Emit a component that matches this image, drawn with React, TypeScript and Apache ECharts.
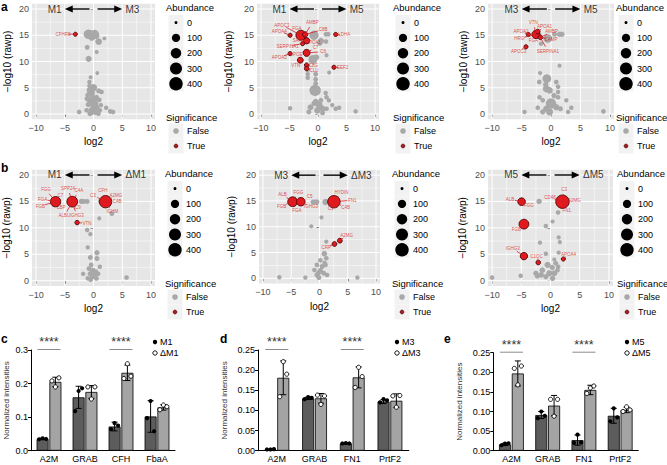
import React, { useEffect, useRef } from 'react';
import * as echarts from 'echarts';

const FONT = "'Liberation Sans', Arial, Helvetica, sans-serif";

// ---------------- Volcano plots: [log2, -log10(rawp), abundance] ----------------
const xTicks = [-10, -5, 0, 5, 10];
const yTicks = [0, 5, 10, 15, 20];
const xMinor = [-7.5, -2.5, 2.5, 7.5];
const yMinor = [2.5, 7.5, 12.5, 17.5];
const abundanceLegend = [0, 100, 200, 300, 400];

const a1Grey = [
  [-0.9, 15.2, 150], [0.2, 15.2, 120], [-0.3, 14.7, 80], [-0.5, 15.3, 60], [0.5, 14.9, 40], [0.9, 13.8, 50],
  [1.9, 14.4, 3], [-1.1, 12.7, 15], [0.55, 11.8, 5], [-0.85, 10.5, 40], [0.66, 7.8, 3], [-0.5, 7.0, 5],
  [-0.7, 6.1, 8], [-0.7, 5.4, 10], [0.0, 5.0, 70], [-0.6, 4.5, 60], [-0.3, 4.0, 40], [0.9, 4.4, 15],
  [1.4, 4.2, 10], [-1.0, 3.6, 15], [-1.1, 2.9, 20], [-0.6, 2.6, 40], [0.15, 2.6, 40], [1.0, 2.7, 12],
  [-0.9, 1.8, 20], [0.0, 1.7, 60], [0.55, 1.3, 30], [-0.3, 0.7, 50], [0.3, 0.4, 40], [1.1, 0.7, 10],
  [2.2, 1.2, 8], [-2.5, 0.4, 10], [2.9, 0.5, 10], [3.4, 0.4, 10], [-1.2, 0.7, 10], [-0.6, 0.1, 20],
  [0.85, 0.1, 15], [0.1, 1.2, 30], [1.3, 1.7, 8], [0.55, 3.2, 10], [-0.2, 3.3, 25], [0.4, 2.0, 20],
];
const a1Sig = [[-3.16, 15.2, 4]];
const a1Labels: [string, number, number, number, number][] = [['CFHR3', -5.3, 15.2, -3.16, 15.2]];

const a2Grey = [
  [-0.7, 15.0, 150], [0.5, 13.9, 40], [1.4, 15.2, 10], [1.8, 15.2, 10], [1.4, 13.8, 10], [1.5, 11.2, 5],
  [-0.9, 10.4, 130], [-0.3, 10.8, 30], [1.95, 7.9, 5], [-0.4, 7.6, 15], [-0.4, 6.6, 12], [-0.4, 5.8, 12],
  [-0.5, 4.5, 260], [-1.8, 6.9, 8], [-1.8, 7.6, 8], [1.35, 4.0, 8], [1.5, 3.2, 10], [0.5, 2.6, 15],
  [1.9, 2.6, 8], [-0.4, 2.3, 40], [0.2, 1.7, 60], [-1.3, 1.3, 30], [0.8, 1.0, 40], [-0.1, 0.7, 50],
  [1.5, 1.0, 10], [3.1, 1.0, 8], [3.7, 1.2, 8], [2.5, 1.7, 6], [-4.9, 1.1, 8], [6.6, 0.5, 8],
  [-1.6, 0.4, 15], [0.8, 0.2, 15], [-0.7, 2.0, 20], [0.3, 13.5, 20], [-1.8, 8.4, 6],
];
const a2Sig = [
  [-3.0, 15.0, 180], [-2.0, 13.95, 40], [-2.0, 11.65, 60], [-4.9, 15.0, 5], [-4.9, 11.5, 5], [-3.1, 10.25, 30],
  [-2.0, 9.3, 8], [-2.0, 8.65, 8], [3.1, 15.15, 5], [2.8, 8.9, 5], [-2.25, 15.15, 20], [-2.7, 13.4, 5],
];
const a2Labels: [string, number, number, number, number][] = [
  ['APOC3', -6.35, 16.95, -3.0, 15.0], ['APOA4', -6.8, 15.8, -4.9, 15.0], ['FGA', -3.7, 16.3, -3.0, 15.0],
  ['AMBP', -1.0, 17.4, -2.25, 15.15], ['C8B', 0.9, 16.1, -2.25, 15.15], ['SAA1', -3.4, 13.95, -2.0, 13.95],
  ['APOA1', -0.8, 13.6, -2.0, 13.95], ['SERPINA1', -5.35, 12.9, -2.7, 13.4], ['C7', -0.4, 12.7, -2.0, 11.65],
  ['C6', 0.9, 11.85, -2.0, 11.65], ['APOA2', -6.8, 10.75, -4.9, 11.5], ['APOE', -3.8, 11.3, -3.1, 10.25],
  ['VTN', -3.9, 9.3, -3.1, 10.25], ['C8G', -0.8, 9.3, -2.0, 9.3], ['CLU', -0.7, 8.3, -2.0, 8.65],
  ['LDHA', 4.6, 15.05, 3.1, 15.15], ['EEF2', 4.3, 8.85, 2.8, 8.9],
];

const a3Grey = [
  [-0.55, 14.4, 120], [0.6, 15.2, 15], [1.45, 15.2, 20], [1.85, 15.2, 20], [-1.7, 13.4, 8], [1.45, 9.2, 5],
  [-1.85, 7.8, 5], [-0.7, 6.75, 120], [-2.0, 6.1, 12], [0.9, 6.1, 12], [1.2, 5.2, 10], [-0.8, 4.8, 60],
  [-0.25, 4.5, 50], [1.2, 4.2, 8], [1.2, 3.2, 10], [-1.95, 3.2, 8], [-1.4, 2.6, 10], [2.6, 2.6, 8],
  [0.0, 2.0, 200], [0.9, 1.3, 40], [-0.8, 1.0, 40], [1.6, 1.0, 15], [3.45, 1.2, 8], [2.9, 0.4, 8],
  [-4.5, 0.4, 8], [8.9, 0.5, 10], [-0.25, 0.4, 60], [-1.4, 0.4, 20], [-2.25, 1.2, 10], [-0.9, 5.6, 20],
  [0.5, 3.5, 20],
];
const a3Sig = [[-2.55, 15.15, 100], [-3.85, 15.15, 5], [-4.25, 12.8, 5], [-1.8, 14.6, 10], [-2.25, 15.7, 10]];
const a3Labels: [string, number, number, number, number][] = [
  ['VTN', -3.0, 17.45, -2.55, 15.15], ['APOA1', -1.1, 16.6, -2.25, 15.7], ['APOA2', -5.1, 15.8, -3.85, 15.15],
  ['AMBP', 0.1, 15.65, -1.8, 14.6], ['HRG', -5.4, 14.4, -2.55, 15.15], ['FGA', -3.0, 14.0, -2.55, 15.15],
  ['CAMP', 0.0, 14.2, -1.8, 14.6], ['SERPINA1', -0.55, 12.0, -1.8, 14.6], ['APOC3', -5.5, 12.0, -4.25, 12.8],
];

const b1Grey = [
  [-2.1, 15.0, 20], [-1.65, 15.0, 15], [-1.1, 15.0, 15], [1.25, 15.0, 20], [3.2, 12.7, 15], [1.0, 11.8, 5],
  [-1.1, 9.6, 8], [-0.55, 8.8, 6], [-1.0, 6.3, 6], [0.6, 5.3, 20], [-0.55, 4.4, 15], [0.6, 4.2, 15],
  [-0.4, 3.0, 12], [-0.8, 2.3, 12], [-0.1, 2.0, 15], [0.4, 1.7, 15], [-1.8, 1.3, 8], [0.8, 1.3, 10],
  [-0.6, 1.3, 15], [-0.2, 0.75, 20], [-1.0, 0.45, 10], [0.5, 0.45, 15], [5.75, 0.6, 10], [1.1, 2.65, 8],
  [-0.3, 1.5, 15], [0.2, 1.0, 12], [-0.5, 0.2, 12],
];
const b1Sig = [[-6.6, 14.95, 200], [-3.7, 14.95, 220], [-2.85, 11.0, 8], [2.1, 14.95, 320]];
const b1Labels: [string, number, number, number, number][] = [
  ['FGG', -8.25, 17.2, -6.6, 14.95], ['C7', -5.75, 16.1, -6.6, 14.95], ['FGA', -8.85, 15.4, -6.6, 14.95],
  ['FGB', -9.25, 14.1, -6.6, 14.95], ['LBP', -5.6, 13.8, -6.6, 14.95], ['SPP24', -4.45, 17.5, -3.7, 14.95],
  ['C4A', -2.55, 17.0, -3.7, 14.95], ['C9', -2.7, 13.9, -3.7, 14.95], ['ALBU', -5.05, 12.25, -3.7, 14.95],
  ['IGHG3', -2.9, 12.25, -3.7, 14.95], ['VTN', -1.15, 10.85, -2.85, 11.0], ['C3', -0.1, 16.2, 2.1, 14.95],
  ['CFH', 1.65, 17.15, 2.1, 14.95], ['A2MG', 3.9, 16.2, 2.1, 14.95], ['C4B', 4.1, 14.95, 2.1, 14.95],
  ['IGHM', 3.3, 13.05, 2.1, 14.95],
];

const b2Grey = [
  [-1.15, 14.8, 15], [-0.75, 14.8, 15], [-0.45, 14.8, 15], [1.05, 14.8, 40], [0.35, 11.8, 5], [-1.45, 10.1, 5],
  [1.2, 7.1, 6], [0.85, 4.8, 25], [1.2, 3.9, 10], [0.15, 3.5, 10], [-0.45, 2.6, 12], [0.45, 2.3, 15],
  [1.05, 2.6, 12], [-0.9, 1.6, 10], [0.15, 1.5, 20], [0.75, 1.0, 15], [-0.45, 0.65, 15], [1.35, 0.65, 10],
  [-7.1, 0.2, 8], [-2.5, 0.15, 8], [6.7, 0.15, 8], [-0.1, 0.15, 15], [0.9, 3.0, 8], [-0.2, 1.0, 12],
];
const b2Sig = [[-4.75, 14.85, 170], [-3.3, 14.85, 110], [2.55, 14.85, 330], [3.6, 7.3, 12], [2.65, 6.65, 12]];
const b2Labels: [string, number, number, number, number][] = [
  ['ALB', -6.55, 16.25, -4.75, 14.85], ['FGG', -3.75, 16.65, -4.75, 14.85], ['FGB', -6.7, 14.0, -4.75, 14.85],
  ['FGA', -4.0, 13.1, -4.75, 14.85], ['C5', -1.75, 15.8, -3.3, 14.85], ['IGHG3', -1.5, 13.85, -3.3, 14.85],
  ['HYDIN', 3.9, 16.6, 2.55, 14.85], ['FN1', 5.8, 15.15, 2.55, 14.85], ['C4B', 4.6, 13.75, 2.55, 14.85],
  ['C3', 1.95, 13.55, 2.55, 14.85], ['A2MG', 4.8, 8.3, 3.6, 7.3], ['CRP', 1.2, 5.95, 2.65, 6.65],
];

const b3Grey = [
  [-1.95, 15.0, 20], [1.3, 12.9, 10], [0.35, 11.2, 5], [-0.8, 10.35, 8], [1.4, 8.2, 5], [1.6, 7.3, 5],
  [-1.8, 7.2, 6], [1.4, 5.3, 6], [-0.8, 5.1, 8], [0.65, 4.0, 5], [0.9, 3.3, 12], [1.3, 2.65, 10],
  [0.3, 2.5, 20], [-0.5, 3.0, 40], [-1.4, 2.0, 25], [-2.5, 1.4, 20], [-2.25, 0.9, 20], [-0.2, 1.4, 40],
  [0.65, 1.4, 30], [-0.8, 0.75, 20], [0.35, 0.45, 20], [-5.1, 0.95, 8], [-10.0, 0.6, 10], [1.2, 2.0, 10],
  [-1.6, 1.1, 25],
];
const b3Sig = [[-4.95, 14.95, 80], [-4.55, 10.7, 170], [2.05, 14.95, 400], [-4.55, 4.65, 70], [-2.1, 3.45, 10], [2.2, 4.1, 5]];
const b3Labels: [string, number, number, number, number][] = [
  ['ALB', -6.95, 15.4, -4.95, 14.95], ['FGG', -3.7, 14.3, -4.95, 14.95], ['FGB', -5.85, 9.6, -4.55, 10.7],
  ['CD48', -0.1, 15.7, 2.05, 14.95], ['C3', 2.35, 17.3, 2.05, 14.95], ['A2MG', 4.1, 15.15, 2.05, 14.95],
  ['FN1', 2.8, 13.25, 2.05, 14.95], ['IGHG3', -6.45, 6.1, -4.55, 4.65], ['C1QC', -2.4, 4.65, -2.1, 3.45],
  ['APOA4', 3.1, 5.0, 2.2, 4.1],
];

// ---------------- Bar charts ----------------
const cCats = ['A2M', 'GRAB', 'CFH', 'FbaA'];
const cM1 = [0.035, 0.159, 0.072, 0.102];
const cM1Sd = [0.002, 0.033, 0.013, 0.047];
const cM1Pts = [[0.034, 0.037, 0.035], [0.118, 0.178, 0.186], [0.064, 0.082, 0.075], [0.097, 0.148, 0.058]];
const cDM1 = [0.205, 0.175, 0.232, 0.129];
const cDM1Sd = [0.014, 0.019, 0.023, 0.008];
const cDM1Pts = [[0.208, 0.19, 0.217], [0.19, 0.154, 0.19], [0.215, 0.259, 0.222], [0.122, 0.136, 0.131]];
const cSig = ['A2M', 'CFH'];

const dCats = ['A2M', 'GRAB', 'FN1', 'PrtF2'];
const dM3 = [0.003, 0.130, 0.018, 0.122];
const dM3Sd = [0.0006, 0.003, 0.001, 0.005];
const dM3Pts = [[0.003, 0.003, 0.004], [0.128, 0.133, 0.131], [0.018, 0.019, 0.018], [0.12, 0.128, 0.125]];
const dDM3 = [0.181, 0.130, 0.182, 0.124];
const dDM3Sd = [0.042, 0.012, 0.026, 0.017];
const dDM3Pts = [[0.134, 0.221, 0.19], [0.138, 0.115, 0.136], [0.157, 0.207, 0.184], [0.136, 0.108, 0.137]];
const dSig = ['A2M', 'FN1'];

const eCats = ['A2M', 'GRAB', 'FN1', 'PrtF2'];
const eM5 = [0.016, 0.091, 0.027, 0.089];
const eM5Sd = [0.003, 0.009, 0.013, 0.019];
const eM5Pts = [[0.014, 0.018, 0.019], [0.083, 0.1, 0.089], [0.02, 0.041, 0.021], [0.075, 0.108, 0.085]];
const eDM5 = [0.197, 0.115, 0.155, 0.104];
const eDM5Sd = [0.032, 0.026, 0.012, 0.007];
const eDM5Pts = [[0.21, 0.168, 0.216], [0.131, 0.088, 0.131], [0.146, 0.16, 0.165], [0.1, 0.112, 0.104]];
const eSig = ['A2M', 'FN1'];

// ---------------- layout ----------------
const volcanoPanels = [
  { grey: a1Grey, sig: a1Sig, labels: a1Labels, l: 'M1', r: 'M3', grid: { left: 32, top: 3.75, width: 123, height: 115.5 }, nameGap: 20, legend: [166, 0] },
  { grey: a2Grey, sig: a2Sig, labels: a2Labels, l: 'M1', r: 'M5', grid: { left: 257, top: 3.75, width: 122, height: 115.5 }, nameGap: 24, legend: [393, 0] },
  { grey: a3Grey, sig: a3Sig, labels: a3Labels, l: 'M3', r: 'M5', grid: { left: 488, top: 3.75, width: 126, height: 115.5 }, nameGap: 20, legend: [616, 0] },
  { grey: b1Grey, sig: b1Sig, labels: b1Labels, l: 'M1', r: 'ΔM1', grid: { left: 31, top: 169.7, width: 124, height: 116.3 }, nameGap: 21, legend: [165, 166] },
  { grey: b2Grey, sig: b2Sig, labels: b2Labels, l: 'M3', r: 'ΔM3', grid: { left: 259, top: 170, width: 121, height: 113.5 }, nameGap: 23, legend: [392, 166] },
  { grey: b3Grey, sig: b3Sig, labels: b3Labels, l: 'M5', r: 'ΔM5', grid: { left: 488, top: 169.7, width: 125, height: 116.3 }, nameGap: 21, legend: [617, 166] },
];

const barPanels = [
  { cats: cCats, a: cM1, aSd: cM1Sd, aPts: cM1Pts, b: cDM1, bSd: cDM1Sd, bPts: cDM1Pts, sig: cSig, la: 'M1', lb: 'ΔM1', max: 0.3, step: 0.1, dec: 1, grid: { left: 31, top: 350, width: 144, height: 100.7 }, nameGap: 21, legend: [155, 342] },
  { cats: dCats, a: dM3, aSd: dM3Sd, aPts: dM3Pts, b: dDM3, bSd: dDM3Sd, bPts: dDM3Pts, sig: dSig, la: 'M3', lb: 'ΔM3', max: 0.25, step: 0.05, dec: 2, grid: { left: 258, top: 350, width: 150.8, height: 100.7 }, nameGap: 30, legend: [397, 342] },
  { cats: eCats, a: eM5, aSd: eM5Sd, aPts: eM5Pts, b: eDM5, bSd: eDM5Sd, bPts: eDM5Pts, sig: eSig, la: 'M5', lb: 'ΔM5', max: 0.25, step: 0.05, dec: 2, grid: { left: 493.3, top: 352.7, width: 145, height: 98 }, nameGap: 30, legend: [627, 342] },
];

const sizeOf = (ab: number) => 3 + 0.52 * Math.sqrt(ab);
const minus = (v: any) => String(v).replace('-', '−');

function buildOption() {
  const grid: any[] = [];
  const xAxis: any[] = [];
  const yAxis: any[] = [];
  const series: any[] = [];
  const graphic: any[] = [];

  const gridLineData = [
    ...xTicks.map((v) => [0, v, 1]), ...xMinor.map((v) => [0, v, 0]),
    ...yTicks.map((v) => [1, v, 1]), ...yMinor.map((v) => [1, v, 0]),
  ];

  volcanoPanels.forEach((p, i) => {
    grid.push({ ...p.grid, show: true, backgroundColor: '#E6E6E6', borderWidth: 0 });
    xAxis.push({
      gridIndex: i, type: 'value', min: -10.7, max: 10.7,
      name: 'log2', nameLocation: 'middle', nameGap: 17.5,
      nameTextStyle: { fontSize: 10, color: '#000', fontFamily: FONT },
      axisLine: { show: false },
      axisTick: { show: true, length: 3, customValues: xTicks, lineStyle: { color: '#333', width: 0.8 } },
      axisLabel: { customValues: xTicks, fontSize: 9, color: '#4D4D4D', margin: 4, formatter: minus, fontFamily: FONT },
      splitLine: { show: false },
    });
    yAxis.push({
      gridIndex: i, type: 'value', min: -1, max: 21,
      name: '−log10 (rawp)', nameLocation: 'middle', nameGap: p.nameGap,
      nameTextStyle: { fontSize: 10, color: '#000', fontFamily: FONT },
      axisLine: { show: false },
      axisTick: { show: true, length: 3, customValues: yTicks, lineStyle: { color: '#333', width: 0.8 } },
      axisLabel: { customValues: yTicks, fontSize: 9, color: '#4D4D4D', margin: 3, fontFamily: FONT },
      splitLine: { show: false },
    });
    // panel grid lines
    series.push({
      type: 'custom', xAxisIndex: i, yAxisIndex: i, z: 1, silent: true, data: gridLineData,
      renderItem: (params: any, api: any) => {
        const cs = params.coordSys;
        const ori = api.value(0), v = api.value(1), major = api.value(2);
        const style = { stroke: '#FFFFFF', lineWidth: major ? 1 : 0.5 };
        if (ori === 0) {
          const x = api.coord([v, 0])[0];
          return { type: 'line', shape: { x1: x, y1: cs.y, x2: x, y2: cs.y + cs.height }, style };
        }
        const y = api.coord([0, v])[1];
        return { type: 'line', shape: { x1: cs.x, y1: y, x2: cs.x + cs.width, y2: y }, style };
      },
    });
    series.push({
      type: 'scatter', xAxisIndex: i, yAxisIndex: i, z: 2, silent: true,
      data: p.grey, symbolSize: (v: number[]) => sizeOf(v[2]),
      itemStyle: { color: '#A8A8A8', opacity: 1 },
    });
    series.push({
      type: 'scatter', xAxisIndex: i, yAxisIndex: i, z: 3, silent: true,
      data: p.sig, symbolSize: (v: number[]) => sizeOf(v[2]),
      itemStyle: { color: '#E4191D', borderColor: '#4A0608', borderWidth: 0.9, opacity: 1 },
    });
    series.push({
      type: 'custom', xAxisIndex: i, yAxisIndex: i, z: 4, silent: true,
      data: p.labels.map((l) => [l[1], l[2], l[3], l[4]]),
      renderItem: (params: any, api: any) => {
        const a = api.coord([api.value(0), api.value(1)]);
        const b = api.coord([api.value(2), api.value(3)]);
        const dx = b[0] - a[0], dy = b[1] - a[1];
        const len = Math.hypot(dx, dy) || 1;
        const s = Math.min(5, len * 0.5);
        return { type: 'line', shape: { x1: a[0] + (dx / len) * s, y1: a[1] + (dy / len) * s, x2: b[0], y2: b[1] }, style: { stroke: '#D11F24', lineWidth: 0.8 } };
      },
    });
    series.push({
      type: 'scatter', xAxisIndex: i, yAxisIndex: i, z: 5, silent: true, symbolSize: 1,
      itemStyle: { color: 'rgba(0,0,0,0)' },
      data: p.labels.map((l) => ({ value: [l[1], l[2]], name: l[0] })),
      label: { show: true, position: 'inside', formatter: '{b}', fontSize: 4.5, color: '#D81E23', fontFamily: FONT },
    });
    // arrows
    series.push({
      type: 'custom', xAxisIndex: i, yAxisIndex: i, z: 5, silent: true,
      data: [[-0.7, 20, -5], [0.7, 20, 5]],
      renderItem: (params: any, api: any) => {
        const s = api.coord([api.value(0), api.value(1)]);
        const e = api.coord([api.value(2), api.value(1)]);
        const d = Math.sign(e[0] - s[0]);
        return {
          type: 'group', children: [
            { type: 'line', shape: { x1: s[0], y1: s[1], x2: e[0] - d * 5, y2: e[1] }, style: { stroke: '#000', lineWidth: 1.4 } },
            { type: 'polygon', shape: { points: [[e[0], e[1]], [e[0] - d * 8, e[1] - 3.6], [e[0] - d * 8, e[1] + 3.6]] }, style: { fill: '#000' } },
          ],
        };
      },
    });
    series.push({
      type: 'scatter', xAxisIndex: i, yAxisIndex: i, z: 5, silent: true, symbolSize: 1,
      itemStyle: { color: 'rgba(0,0,0,0)' },
      data: [
        { value: [-5.3, 20], name: p.l, label: { position: 'left' } },
        { value: [5.3, 20], name: p.r, label: { position: 'right' } },
      ],
      label: { show: true, formatter: '{b}', fontSize: 10, color: '#000', distance: 1, fontFamily: FONT },
    });

    // legend
    const [bx, by] = p.legend;
    const txt = (x: number, y: number, t: string, fs: number, extra: any = {}) => ({
      type: 'text', x, y, silent: true,
      style: { text: t, fontSize: fs, fontFamily: FONT, fill: '#000', verticalAlign: 'middle', align: 'left', ...extra },
    });
    graphic.push(txt(bx, by + 7, 'Abundance', 9.5));
    abundanceLegend.forEach((ab, k) => {
      const cy = by + 22.6 + 15.3 * k;
      graphic.push({ type: 'rect', silent: true, shape: { x: bx + 2.5, y: cy - 7.6, width: 15, height: 15.2 }, style: { fill: '#F2F2F2' } });
      graphic.push({ type: 'circle', silent: true, shape: { cx: bx + 10, cy, r: sizeOf(ab) / 2 }, style: { fill: '#000' } });
      graphic.push(txt(bx + 21, cy, String(ab), 9));
    });
    graphic.push(txt(bx, by + 117, 'Significance', 9.5));
    [['False', 131], ['True', 146]].forEach(([t, dy]: any) => {
      const cy = by + dy;
      graphic.push({ type: 'rect', silent: true, shape: { x: bx + 2.5, y: cy - 7.5, width: 15, height: 15 }, style: { fill: '#F2F2F2' } });
      graphic.push(t === 'False'
        ? { type: 'circle', silent: true, shape: { cx: bx + 10, cy, r: 2.8 }, style: { fill: '#A8A8A8' } }
        : { type: 'circle', silent: true, shape: { cx: bx + 10, cy, r: 1.9 }, style: { fill: '#B01E24', stroke: '#4A0608', lineWidth: 0.7 } });
      graphic.push(txt(bx + 21, cy, t, 9));
    });
  });

  const BW = 12;
  const GAP = 0.8;
  barPanels.forEach((b, j) => {
    const gi = volcanoPanels.length + j;
    grid.push({ ...b.grid });
    xAxis.push({
      gridIndex: gi, type: 'category', data: b.cats,
      axisLine: { show: true, lineStyle: { color: '#000', width: 1 } },
      axisTick: { show: false },
      axisLabel: { color: '#000', fontSize: 9, margin: 4, fontFamily: FONT },
    });
    yAxis.push({
      gridIndex: gi, type: 'value', min: 0, max: b.max, interval: b.step,
      name: 'Normalized intensities', nameLocation: 'middle', nameGap: b.nameGap,
      nameTextStyle: { fontSize: 8, color: '#333', fontFamily: FONT },
      axisLine: { show: true, lineStyle: { color: '#000', width: 1 } },
      axisTick: { show: true, length: 3, lineStyle: { color: '#000', width: 1 } },
      axisLabel: { color: '#000', fontSize: 9, margin: 3, fontFamily: FONT, formatter: (v: number) => v.toFixed(b.dec) },
      splitLine: { show: false },
    });
    series.push({
      type: 'bar', xAxisIndex: gi, yAxisIndex: gi, data: b.a, barWidth: BW, barGap: `${(GAP / BW) * 100}%`, silent: true, z: 2,
      itemStyle: { color: '#5C5C5C', borderColor: '#000', borderWidth: 0.8 },
    });
    series.push({
      type: 'bar', xAxisIndex: gi, yAxisIndex: gi, data: b.b, barWidth: BW, barGap: `${(GAP / BW) * 100}%`, silent: true, z: 2,
      itemStyle: { color: '#A4A4A4', borderColor: '#000', borderWidth: 0.8 },
    });
    const errSeries = (means: number[], sds: number[], pts: number[][], off: number, filled: boolean) => ({
      type: 'custom', xAxisIndex: gi, yAxisIndex: gi, z: 4, silent: true,
      data: means.map((m, k) => [k, m, sds[k], pts[k][0], pts[k][1], pts[k][2]]),
      renderItem: (params: any, api: any) => {
        const ci = api.value(0), m = api.value(1), sd = api.value(2);
        const x = api.coord([ci, m])[0] + off;
        const yt = api.coord([ci, m + sd])[1];
        const yb = api.coord([ci, Math.max(0, m - sd)])[1];
        const ls = { stroke: '#000', lineWidth: 1 };
        const children: any[] = [
          { type: 'line', shape: { x1: x, y1: yt, x2: x, y2: yb }, style: ls },
          { type: 'line', shape: { x1: x - 3, y1: yt, x2: x + 3, y2: yt }, style: ls },
          { type: 'line', shape: { x1: x - 3, y1: yb, x2: x + 3, y2: yb }, style: ls },
        ];
        [3, 4, 5].forEach((d, k) => {
          const py = api.coord([ci, api.value(d)])[1];
          children.push({
            type: 'circle', shape: { cx: x + (k - 1) * 3.5, cy: py, r: 2.1 },
            style: filled ? { fill: '#000' } : { fill: '#fff', stroke: '#000', lineWidth: 0.9 },
          });
        });
        return { type: 'group', children };
      },
    });
    series.push(errSeries(b.a, b.aSd, b.aPts, -(BW / 2 + GAP / 2), true));
    series.push(errSeries(b.b, b.bSd, b.bPts, BW / 2 + GAP / 2, false));
    series.push({
      type: 'custom', xAxisIndex: gi, yAxisIndex: gi, z: 5, silent: true,
      data: b.sig.map((c) => [b.cats.indexOf(c), b.max]),
      renderItem: (params: any, api: any) => {
        const c = api.coord([api.value(0), api.value(1)]);
        return {
          type: 'group', children: [
            { type: 'line', shape: { x1: c[0] - 11.5, y1: c[1] - 0.5, x2: c[0] + 11.5, y2: c[1] - 0.5 }, style: { stroke: '#8A8A8A', lineWidth: 1 } },
            { type: 'text', x: c[0], y: c[1] - 1.5, style: { text: '****', fontSize: 12.5, fontFamily: FONT, fill: '#333', align: 'center', verticalAlign: 'bottom' } },
          ],
        };
      },
    });
    const [lx, ly] = b.legend;
    graphic.push({ type: 'circle', silent: true, shape: { cx: lx, cy: ly, r: 2.2 }, style: { fill: '#000' } });
    graphic.push({ type: 'circle', silent: true, shape: { cx: lx, cy: ly + 11, r: 2.2 }, style: { fill: '#fff', stroke: '#000', lineWidth: 0.9 } });
    graphic.push({ type: 'text', x: lx + 5, y: ly, silent: true, style: { text: b.la, fontSize: 9, fontFamily: FONT, fill: '#000', verticalAlign: 'middle' } });
    graphic.push({ type: 'text', x: lx + 5, y: ly + 11, silent: true, style: { text: b.lb, fontSize: 9, fontFamily: FONT, fill: '#000', verticalAlign: 'middle' } });
  });

  // panel letters
  [['a', 1, 6.5], ['b', 1, 168], ['c', 1, 339], ['d', 220, 339], ['e', 444, 339]].forEach(([t, x, y]: any) => {
    graphic.push({ type: 'text', x, y, silent: true, style: { text: t, fontSize: 12, fontWeight: 'bold', fontFamily: FONT, fill: '#000', verticalAlign: 'middle' } });
  });

  return { animation: false, textStyle: { fontFamily: FONT }, grid, xAxis, yAxis, series, graphic };
}

export default function App() {
  const ref = useRef<HTMLDivElement>(null);
  useEffect(() => {
    document.body.style.margin = '0';
    const chart = echarts.init(ref.current!, undefined, { renderer: 'svg' });
    chart.setOption(buildOption() as any);
    return () => chart.dispose();
  }, []);
  return <div ref={ref} style={{ width: 667, height: 465, background: '#fff' }} />;
}
